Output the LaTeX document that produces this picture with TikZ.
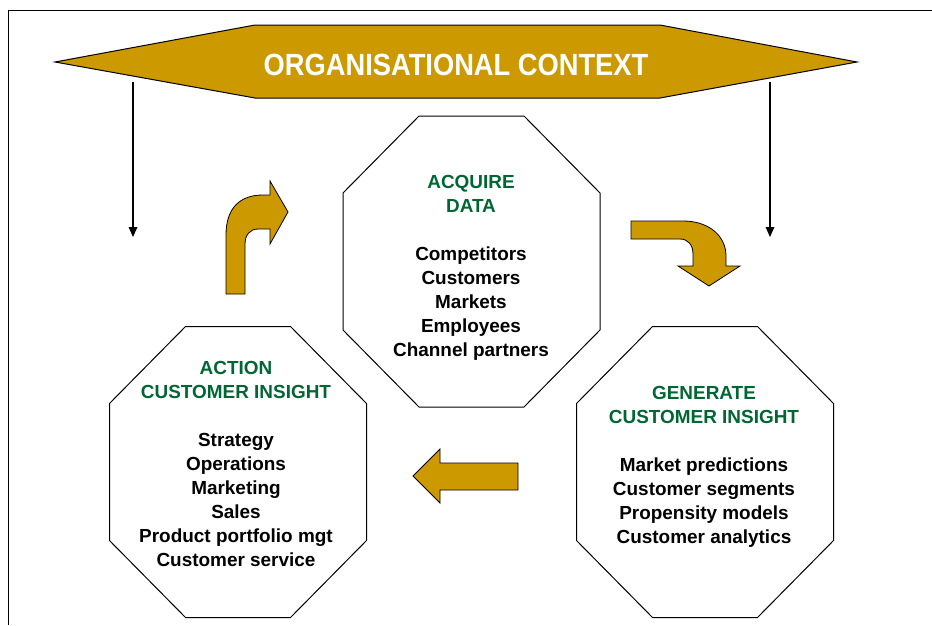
\documentclass[tikz,border=0pt]{standalone}
\usepackage{fontspec}
\setmainfont{Liberation Sans}
\newfontfamily\narrowsans[FakeStretch=0.89]{Liberation Sans}
\usetikzlibrary{arrows.meta}
\definecolor{contextgold}{RGB}{204,153,0}
\definecolor{insightgreen}{RGB}{0,102,51}
\newcommand\stagetitle[1]{\textcolor{insightgreen}{#1}}
\tikzset{
  pics/octagon/.style={code={
    \draw [line width=0.75pt, fill=white] (-128.5,-68.5) -- (-52.5,-145.5) -- (52.5,-145.5) -- (128.5,-68.5) -- (128.5,68.5) -- (52.5,145.5) -- (-52.5,145.5) -- (-128.5,68.5) -- cycle ;
  }},
  octtext/.style={anchor=north, inner sep=0pt, align=center,
    font=\bfseries\fontsize{14.2}{18}\selectfont},
  fatarrow/.style={draw=black, line width=0.6pt, fill=contextgold},
  downarrow/.style={line width=0.9pt, -{Triangle[length=7.5pt,width=6.5pt]}},
}

\begin{document}
\begin{tikzpicture}[x=0.75pt,y=0.75pt,yscale=-1,xscale=1]
\useasboundingbox (0,0) rectangle (932,625);

%Shape: Frame
\draw [line width=0.75pt] (8,625) -- (8,10) -- (932,10);
%Shape: Hexagon
\draw [fill=contextgold, line width=0.75pt] (55,62) -- (255,25) -- (660,25) -- (857,62) -- (660,98) -- (255,98) -- cycle;
% Text Node
\node [anchor=base, inner sep=0pt, text=white, font=\narrowsans\bfseries\fontsize{23}{28}\selectfont] (context) at (456,75) {ORGANISATIONAL CONTEXT};

%Shape: Octagons
\pic at (471.5,261.5) {octagon};
\pic at (238,472) {octagon};
\pic at (705,472) {octagon};

% Text Node
\node [octtext] (acquire) at (471,175) {\stagetitle{ACQUIRE}\\\stagetitle{DATA}\\[18pt]Competitors\\Customers\\Markets\\Employees\\Channel partners};
% Text Node
\node [octtext] (action) at (236,361) {\stagetitle{ACTION}\\\stagetitle{CUSTOMER INSIGHT}\\[18pt]Strategy\\Operations\\Marketing\\Sales\\Product portfolio mgt\\Customer service};
% Text Node
\node [octtext] (generate) at (704,386) {\stagetitle{GENERATE}\\\stagetitle{CUSTOMER INSIGHT}\\[18pt]Market predictions\\Customer segments\\Propensity models\\Customer analytics};

%Shape: Bent Up Arrow
\draw [fatarrow] (226,294) -- (226,235) .. controls (226,207) and (241,195) .. (263,195) -- (270,195) -- (270,181) -- (288,212) -- (270,244) -- (270,229) -- (258,229) .. controls (250,229) and (245,235) .. (245,244) -- (245,294) -- cycle ;
%Shape: Bent Down Arrow
\draw [fatarrow] (631,221) -- (683,221) .. controls (709,221) and (726,236) .. (726,256) -- (726,266) -- (740,266) -- (709,286) -- (678,266) -- (693,266) -- (693,254) .. controls (693,245) and (688,239) .. (680,239) -- (631,239) -- cycle ;
%Shape: Left Arrow
\draw [fatarrow] (518,463) -- (440,463) -- (440,449) -- (413,476) -- (440,503) -- (440,490) -- (518,490) -- cycle ;

%Straight Lines
\coordinate (ctxleft) at (133,82);
\coordinate (ctxleftend) at (133,237);
\coordinate (ctxright) at (770,82);
\coordinate (ctxrightend) at (770,237);
\draw [downarrow] (ctxleft) -- (ctxleftend);
\draw [downarrow] (ctxright) -- (ctxrightend);

\end{tikzpicture}
\end{document}
